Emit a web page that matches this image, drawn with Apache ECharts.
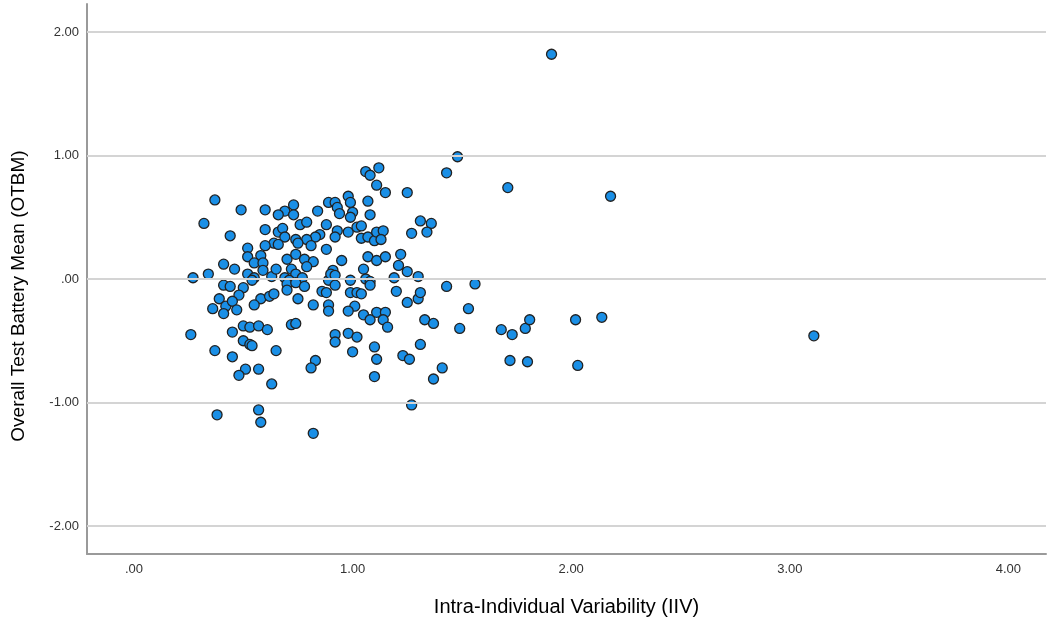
<!DOCTYPE html>
<html>
<head>
<meta charset="utf-8">
<title>OTBM vs IIV</title>
<script src="https://cdn.jsdelivr.net/npm/echarts@6/dist/echarts.min.js"></script>
<style>
  html, body { margin: 0; padding: 0; background: #fff; }
  #chart { width: 1048px; height: 625px; }
</style>
</head>
<body>
<div id="chart"></div>
<script>
// axis titles / ticks
var xTitle = 'Intra-Individual Variability (IIV)';
var yTitle = 'Overall Test Battery Mean (OTBM)';
var xTicks = [0, 1, 2, 3, 4];
var yTicks = [-2, -1, 0, 1, 2];

// IIV (x) and OTBM (y)
var iiv = [
  0.37, 0.49, 0.60, 0.73, 0.69, 0.66, 0.73, 0.84, 0.89, 0.32,
  0.44, 0.60, 0.66, 0.68, 0.69, 0.76, 0.79, 0.88, 0.85, 0.83,
  0.79, 0.74, 0.75, 0.81, 0.88, 0.64, 0.66, 0.60, 0.52, 0.52,
  0.58, 0.55, 0.59, 0.70, 0.74, 0.78, 0.82, 0.79, 0.41, 0.46,
  0.34, 0.27, 0.52, 0.55, 0.59, 0.63, 0.65, 0.72, 0.74, 0.77,
  0.69, 0.71, 0.70, 0.74, 0.78, 0.70, 0.89, 0.86, 0.88, 0.41,
  0.44, 0.50, 0.54, 0.48, 0.39, 0.58, 0.62, 0.64, 0.75, 0.36,
  0.42, 0.41, 0.45, 0.47, 0.55, 0.82, 0.89, 0.89, 0.26, 0.45,
  0.50, 0.53, 0.57, 0.61, 0.72, 0.74, 0.50, 0.53, 0.54, 0.37,
  0.45, 0.65, 0.83, 0.81, 0.51, 0.48, 0.57, 0.63, 0.38, 0.57,
  0.58, 0.82, 1.48, 1.43, 1.06, 1.08, 1.12, 1.11, 1.15, 1.25,
  0.98, 0.99, 0.92, 0.93, 0.94, 1.00, 0.99, 1.07, 1.08, 0.93,
  0.92, 0.98, 1.02, 1.04, 1.04, 1.07, 1.10, 1.11, 1.14, 1.13,
  0.95, 1.07, 1.11, 1.15, 1.05, 1.22, 1.21, 1.25, 1.30, 1.31,
  1.36, 1.34, 1.27, 1.19, 0.91, 0.90, 0.92, 0.92, 0.99, 1.06,
  1.08, 1.08, 1.43, 0.99, 1.02, 1.04, 1.01, 0.98, 1.05, 1.08,
  1.11, 1.15, 1.14, 1.16, 1.20, 1.25, 1.30, 1.31, 1.53, 1.33,
  1.37, 1.49, 0.92, 0.92, 0.98, 1.02, 1.00, 1.10, 1.11, 1.10,
  1.23, 1.26, 1.31, 1.41, 1.37, 1.27, 1.71, 2.18, 1.56, 1.68,
  1.73, 1.79, 1.81, 2.02, 2.14, 1.72, 1.80, 2.03, 1.91, 3.11
];
var otbm = [
  0.64, 0.56, 0.56, 0.60, 0.55, 0.52, 0.52, 0.55, 0.62, 0.45,
  0.35, 0.40, 0.38, 0.41, 0.34, 0.44, 0.46, 0.44, 0.36, 0.34,
  0.32, 0.32, 0.29, 0.27, 0.24, 0.29, 0.28, 0.27, 0.25, 0.18,
  0.19, 0.13, 0.13, 0.16, 0.20, 0.16, 0.14, 0.10, 0.12, 0.08,
  0.04, 0.01, 0.04, 0.01, 0.07, 0.02, 0.08, 0.08, 0.04, 0.01,
  0.01, -0.01, -0.04, -0.03, -0.06, -0.09, -0.01, -0.10, -0.11, -0.05,
  -0.06, -0.07, -0.01, -0.13, -0.16, -0.16, -0.14, -0.12, -0.16, -0.24,
  -0.22, -0.28, -0.18, -0.25, -0.21, -0.21, -0.21, -0.26, -0.45, -0.43,
  -0.38, -0.39, -0.38, -0.41, -0.37, -0.36, -0.50, -0.53, -0.54, -0.58,
  -0.63, -0.58, -0.66, -0.72, -0.73, -0.78, -0.73, -0.85, -1.10, -1.06,
  -1.16, -1.25, 0.99, 0.86, 0.87, 0.84, 0.90, 0.76, 0.70, 0.70,
  0.67, 0.62, 0.62, 0.58, 0.53, 0.54, 0.50, 0.63, 0.52, 0.39,
  0.34, 0.38, 0.42, 0.43, 0.33, 0.34, 0.31, 0.38, 0.39, 0.32,
  0.15, 0.18, 0.15, 0.18, 0.08, 0.20, 0.11, 0.06, 0.02, 0.47,
  0.45, 0.38, 0.37, 0.01, 0.07, 0.04, 0.03, -0.05, -0.01, 0.00,
  -0.02, -0.05, -0.06, -0.11, -0.11, -0.12, -0.22, -0.26, -0.29, -0.33,
  -0.27, -0.27, -0.33, -0.39, -0.10, -0.19, -0.16, -0.11, -0.24, -0.33,
  -0.36, -0.40, -0.45, -0.51, -0.44, -0.47, -0.59, -0.55, -0.65, -0.79,
  -0.62, -0.65, -0.53, -0.72, -0.81, -1.02, 0.74, 0.67, -0.04, -0.41,
  -0.45, -0.40, -0.33, -0.33, -0.31, -0.66, -0.67, -0.70, 1.82, -0.46
];

var points = iiv.map(function (v, i) { return [v, otbm[i]]; });

function fmt(v) {
  return v === 0 ? '.00' : v.toFixed(2);
}

var chart = echarts.init(document.getElementById('chart'));
chart.setOption({
  animation: false,
  textStyle: { fontFamily: 'Liberation Sans, Arial, sans-serif' },
  grid: { left: 87, right: 2, top: 4, bottom: 71 },
  xAxis: {
    type: 'value',
    min: -0.215,
    max: 4.172,
    name: xTitle,
    nameLocation: 'middle',
    nameGap: 43,
    nameTextStyle: { fontSize: 20, color: '#000' },
    axisLine: { onZero: false, lineStyle: { color: '#9a9a9a', width: 2 } },
    axisTick: { show: false },
    splitLine: { show: false },
    axisLabel: {
      customValues: xTicks,
      formatter: fmt,
      fontSize: 13,
      color: '#333',
      margin: 9
    }
  },
  yAxis: {
    type: 'value',
    min: -2.227,
    max: 2.227,
    name: yTitle,
    nameLocation: 'middle',
    nameGap: 59,
    nameRotate: 90,
    nameTextStyle: { fontSize: 19, color: '#000', padding: [0, 34, 0, 0] },
    axisLine: { show: true, onZero: false, lineStyle: { color: '#9a9a9a', width: 2 } },
    axisTick: { show: false },
    splitLine: { show: false },
    axisLabel: {
      customValues: yTicks,
      formatter: fmt,
      fontSize: 13,
      color: '#333',
      margin: 8
    }
  },
  series: [
    {
      // gridlines at the y ticks
      type: 'line',
      data: [],
      silent: true,
      z: 1,
      markLine: {
        silent: true,
        symbol: 'none',
        label: { show: false },
        lineStyle: { type: 'solid', color: '#d4d4d4', width: 2 },
        data: yTicks.map(function (v) { return { yAxis: v }; })
      }
    },
    {
      type: 'scatter',
      z: 3,
      symbol: 'circle',
      symbolSize: 10,
      itemStyle: {
        color: '#1a8fe6',
        borderColor: '#222',
        borderWidth: 1.3,
        opacity: 1
      },
      data: points
    }
  ]
});
</script>
</body>
</html>
